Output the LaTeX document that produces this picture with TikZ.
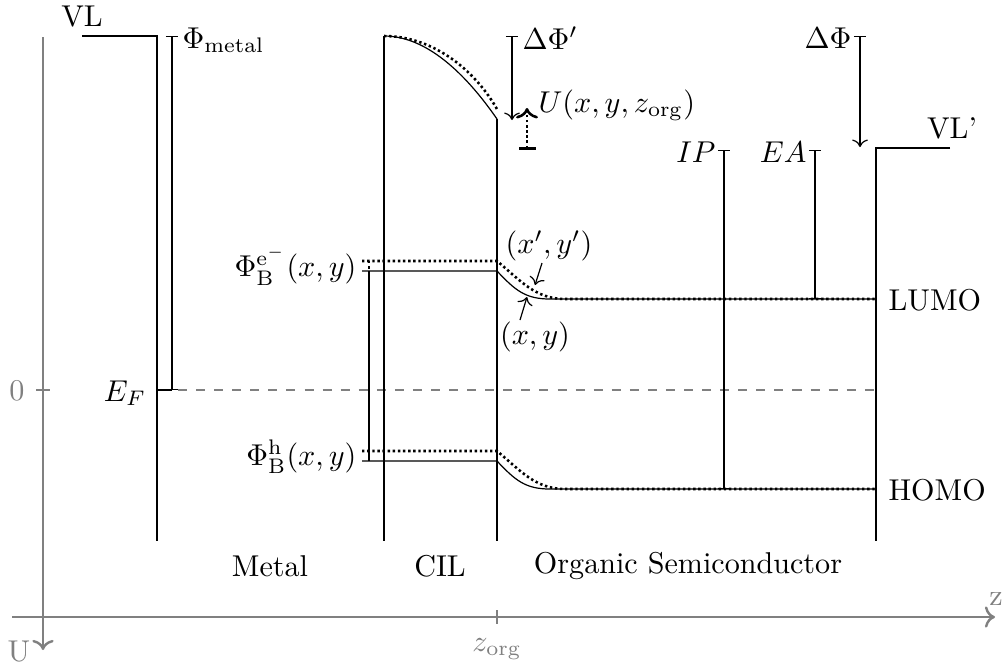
\documentclass[tikz,border=0pt]{standalone}
\usetikzlibrary{arrows.meta}
\begin{document}
\begin{tikzpicture}[x=0.332pt,y=-0.332pt,
  axis/.style={draw=black!50, line width=0.8pt},
  glabel/.style={text=black!50, inner sep=0pt},
  lbl/.style={inner sep=0pt},
  dotline/.style={dash pattern=on 0.8pt off 0.9pt, line width=0.85pt},
  thin/.style={line width=0.4pt},
  meas/.style={thin, {Bar[width=4pt]}-{Bar[width=4pt]}},
  measarrow/.style={thin, {Bar[width=4pt]}->}]
\useasboundingbox (0,0) rectangle (1005,666);

% axes
\coordinate (uTop) at (43,37);
\coordinate (uEnd) at (43,650);
\draw[axis,->] (uTop) -- (uEnd);
\node[glabel] (Ulab) at (19,652) {U};
\coordinate (zStart) at (12,617);
\coordinate (zEnd) at (995,617);
\draw[axis,->] (zStart) -- (zEnd);
\node[glabel] (zlab) at (996,599) {z};
\coordinate (t0a) at (36,390);
\coordinate (t0b) at (50,390);
\draw[axis] (t0a) -- (t0b);
\node[glabel] (zero) at (17,391) {0};
\coordinate (tza) at (497,610);
\coordinate (tzb) at (497,624);
\draw[axis] (tza) -- (tzb);
\node[glabel] (zorg) at (497,649) {$z_\mathrm{org}$};

% metal
\coordinate (vlA) at (82,36);
\coordinate (mTop) at (157,36);
\coordinate (mBot) at (157,541);
\draw[thin] (vlA) -- (mTop) -- (mBot);
\node[lbl] (VL) at (82,17) {VL};
\coordinate (phA) at (172,36);
\coordinate (phB) at (172,390);
\coordinate (mEF) at (157,390);
\draw[meas] (phA) -- (phB);
\draw[thin] (mEF) -- (phB);
\node[lbl, anchor=west] (phimetal) at (182,40) {$\Phi_\mathrm{metal}$};
\node[lbl] (EF) at (125,393) {$E_F$};
\coordinate (efA) at (178,390);
\coordinate (efB) at (876,390);
\draw[dashed, black!50, thin] (efA) -- (efB);

% CIL
\coordinate (cTopL) at (384,36);
\coordinate (cBotL) at (384,541);
\coordinate (cTopR) at (497,119);
\coordinate (cBotR) at (497,541);
\draw[thin] (cTopL) -- (cBotL);
\draw[thin] (cTopR) -- (cBotR);
\draw[thin] (cTopL) .. controls (430,36) and (470,80) .. (cTopR);
\coordinate (cDotEnd) at (498,111);
\draw[dotline] (cTopL) .. controls (436,36) and (478,74) .. (cDotEnd);

% Delta Phi'
\coordinate (dpA) at (512,36);
\coordinate (dpB) at (512,120);
\draw[measarrow] (dpA) -- (dpB);
\node[lbl, anchor=west] (dphip) at (522,38) {$\Delta\Phi'$};
\coordinate (uA) at (527,148);
\coordinate (uB) at (527,108);
\draw[dotline, ->] (uA) -- (uB);
\coordinate (ubL) at (519,148);
\coordinate (ubR) at (536,148);
\draw[line width=1pt] (ubL) -- (ubR);
\node[lbl, anchor=west] (Ulabel) at (538,105) {$U(x,y,z_\mathrm{org})$};

% organic
\coordinate (vl2A) at (876,148);
\coordinate (vl2B) at (950,148);
\coordinate (oBot) at (876,541);
\draw[thin] (vl2B) -- (vl2A) -- (oBot);
\node[lbl] (VLp) at (952,128) {VL'};
\coordinate (dA) at (860,36);
\coordinate (dB) at (860,147);
\draw[measarrow] (dA) -- (dB);
\node[lbl, anchor=east] (dphi) at (852,38) {$\Delta\Phi$};

% LUMO / HOMO
\coordinate (lS0) at (362,271);
\coordinate (lS1) at (497,271);
\coordinate (lS2) at (550,299);
\coordinate (lEnd) at (876,299);
\draw[thin] (lS0) -- (lS1) .. controls (515,290) and (525,299) .. (lS2) -- (lEnd);
\coordinate (lD0) at (362,261);
\coordinate (lD1) at (497,261);
\coordinate (lD2) at (565,299);
\draw[dotline] (lD0) -- (lD1) .. controls (520,280) and (535,299) .. (lD2) -- (lEnd);
\coordinate (hS0) at (362,461);
\coordinate (hS1) at (497,461);
\coordinate (hS2) at (550,489);
\coordinate (hEnd) at (876,489);
\draw[thin] (hS0) -- (hS1) .. controls (515,480) and (525,489) .. (hS2) -- (hEnd);
\coordinate (hD0) at (362,451);
\coordinate (hD1) at (497,451);
\coordinate (hD2) at (565,489);
\draw[dotline] (hD0) -- (hD1) .. controls (520,470) and (535,489) .. (hD2) -- (hEnd);
\coordinate (brS0) at (369,271);
\coordinate (brS1) at (369,461);
\draw[thin] (brS0) -- (brS1);
\coordinate (brD0) at (369,261);
\coordinate (brD1) at (369,451);
\draw[dotline] (brD0) -- (brD1);
\node[lbl, anchor=east] (phie) at (357,266) {$\Phi_\mathrm{B}^{\mathrm{e}^-}(x,y)$};
\node[lbl, anchor=east] (phih) at (357,457) {$\Phi_\mathrm{B}^\mathrm{h}(x,y)$};
\node[lbl, anchor=west] (LUMO) at (888,300) {LUMO};
\node[lbl, anchor=west] (HOMO) at (888,490) {HOMO};

% (x',y') and (x,y)
\node[lbl] (xyp) at (549,246) {$(x',y')$};
\coordinate (xypFrom) at (542,263);
\coordinate (xypTo) at (535,285);
\draw[thin,->] (xypFrom) -- (xypTo);
\node[lbl] (xy) at (535,337) {$(x,y)$};
\coordinate (xyFrom) at (520,320);
\coordinate (xyTo) at (527,297);
\draw[thin,->] (xyFrom) -- (xyTo);

% IP / EA
\coordinate (ipA) at (724,150);
\coordinate (ipB) at (724,489);
\draw[meas] (ipA) -- (ipB);
\node[lbl, anchor=east] (IP) at (716,152) {$IP$};
\coordinate (eaA) at (815,150);
\coordinate (eaB) at (815,299);
\draw[meas] (eaA) -- (eaB);
\node[lbl, anchor=east] (EA) at (807,152) {$EA$};

% region labels
\node[lbl] (metal) at (270,566) {Metal};
\node[lbl] (cil) at (440,566) {CIL};
\node[lbl] (org) at (688,566) {Organic Semiconductor};
\end{tikzpicture}
\end{document}
